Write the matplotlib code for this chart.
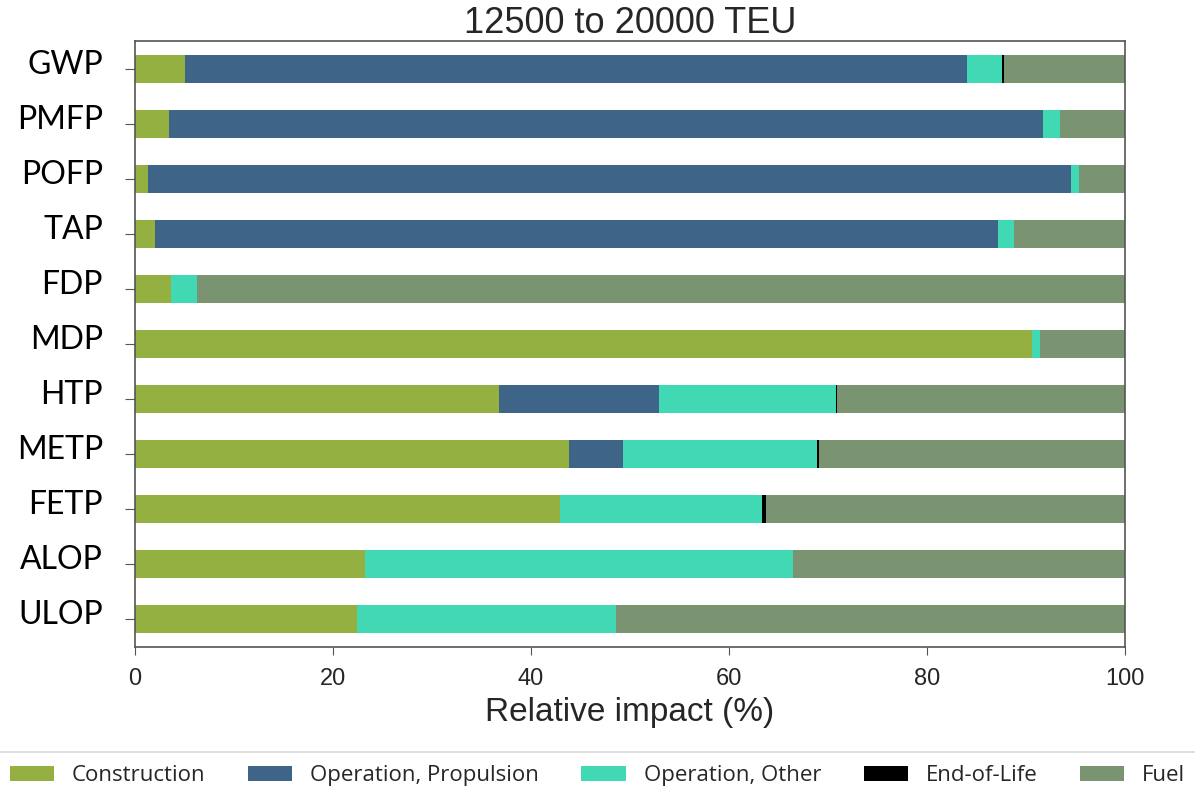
"""
Relative impact by category, 12500 to 20000 TEU vessels
"""

import matplotlib

matplotlib.use("Agg")

import matplotlib.pyplot as plt
import matplotlib.transforms as mtransforms
import numpy as np


CATEGORIES = [
    "GWP", "PMFP", "POFP", "TAP", "FDP", "MDP",
    "HTP", "METP", "FETP", "ALOP", "ULOP",
]

CONSTRUCTION = [5.0, 3.4, 1.3, 2.05, 3.6, 90.6, 36.8, 43.8, 42.9, 23.2, 22.4]
PROPULSION = [79.0, 88.3, 93.2, 85.15, 0.0, 0.0, 16.1, 5.45, 0.0, 0.0, 0.0]
OPERATION_OTHER = [3.6, 1.7, 0.85, 1.55, 2.66, 0.8, 17.9, 19.6, 20.4, 43.3, 26.2]
END_OF_LIFE = [0.15, 0.0, 0.0, 0.0, 0.0, 0.0, 0.1, 0.25, 0.4, 0.0, 0.0]
FUEL = [12.25, 6.6, 4.65, 11.25, 93.74, 8.6, 29.1, 30.9, 36.3, 33.5, 51.4]

SERIES = [
    ("Construction", CONSTRUCTION, "#94b040"),
    ("Operation, Propulsion", PROPULSION, "#3e6488"),
    ("Operation, Other", OPERATION_OTHER, "#40d9b4"),
    ("End-of-Life", END_OF_LIFE, "#000000"),
    ("Fuel", FUEL, "#7a9370"),
]

TEXT_COLOR = "#262626"
SPINE_COLOR = "#555555"


def main():
    fig = plt.figure(figsize=(11.95, 7.89), dpi=100)
    ax = fig.add_axes([0.113, 0.18, 0.8284, 0.768])

    y = np.arange(len(CATEGORIES))
    left = np.zeros(len(CATEGORIES))
    for label, values, color in SERIES:
        values = np.array(values)
        ax.barh(y, values, left=left, height=0.51, color=color,
                label=label, linewidth=0)
        left += values

    ax.set_xlim(0, 100)
    ax.set_ylim(len(CATEGORIES) - 0.5, -0.5)

    ax.set_yticks(y)
    ax.set_yticklabels(CATEGORIES, fontfamily="Lato", fontsize=23,
                       color="black")
    ax.set_xticks([0, 20, 40, 60, 80, 100])
    ax.tick_params(axis="y", length=7, pad=16, colors=SPINE_COLOR,
                   labelcolor="black")
    ax.tick_params(axis="x", length=6, pad=9, colors=SPINE_COLOR,
                   labelcolor=TEXT_COLOR, labelsize=17)
    for tick in ax.get_xticklabels():
        tick.set_fontfamily("Liberation Sans")

    # category names sit a little above their tick marks
    lift = mtransforms.ScaledTranslation(0, 5 / 72, fig.dpi_scale_trans)
    for tick in ax.get_yticklabels():
        tick.set_transform(tick.get_transform() + lift)

    for spine in ax.spines.values():
        spine.set_color(SPINE_COLOR)
        spine.set_linewidth(1.2)

    ax.set_title("12500 to 20000 TEU", fontfamily="Liberation Sans",
                 fontsize=26, color=TEXT_COLOR, pad=6)
    ax.set_xlabel("Relative impact (%)", fontfamily="Liberation Sans",
                  fontsize=24, color=TEXT_COLOR, labelpad=5)

    handles, labels = ax.get_legend_handles_labels()
    legend = fig.legend(
        handles, labels,
        loc="upper left",
        bbox_to_anchor=(-0.003, 0, 1.006, 0.047),
        mode="expand",
        ncol=5,
        borderaxespad=0,
        borderpad=0.6,
        frameon=True,
        fancybox=False,
        handlelength=2.0,
        handleheight=0.7,
        handletextpad=0.8,
        prop={"family": "Open Sans", "size": 16},
    )
    legend.get_frame().set_edgecolor("#d0d0d0")
    legend.get_frame().set_linewidth(1.2)
    for text in legend.get_texts():
        text.set_color(TEXT_COLOR)

    fig.savefig("out.png", dpi=100)
    plt.close(fig)


if __name__ == "__main__":
    main()
